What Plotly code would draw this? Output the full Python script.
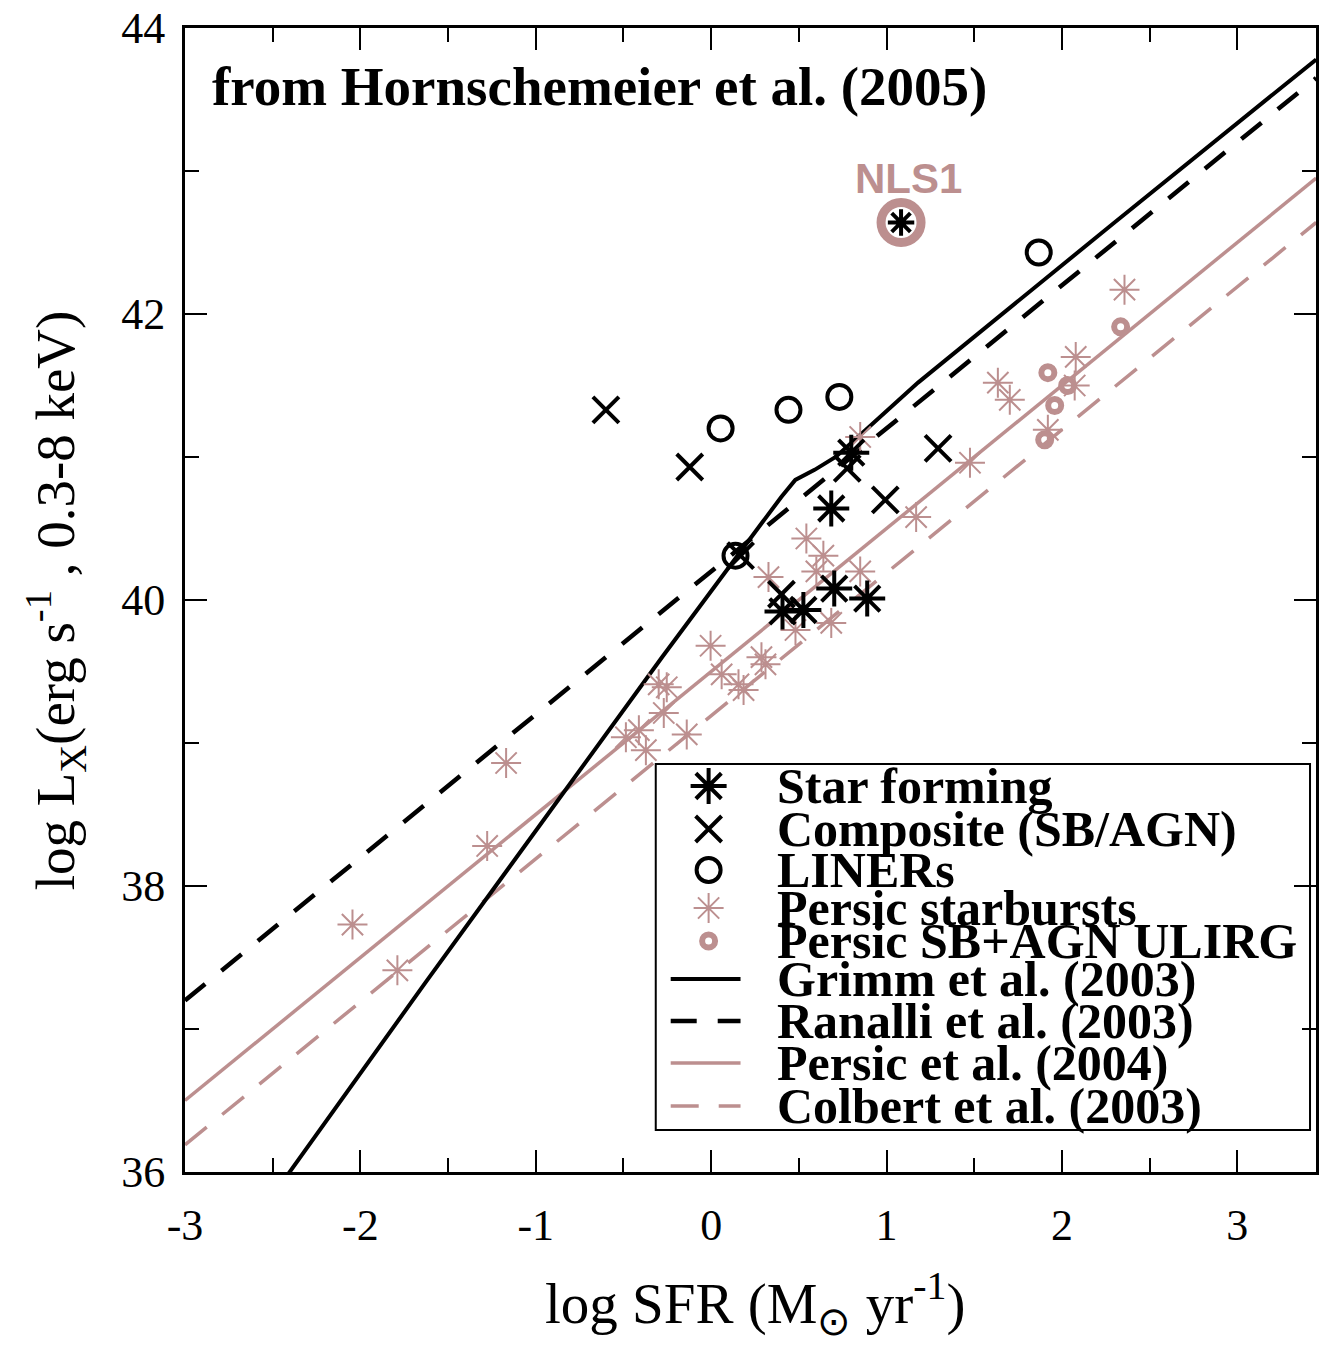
import plotly.graph_objects as go

# ---------------- data ----------------
# Star forming (black asterisks)
star_x = [0.407, 0.526, 0.702, 0.890, 0.685, 0.799]
star_y = [39.92, 39.93, 40.08, 40.01, 40.64, 41.03]
# NLS1 (star forming point highlighted)
nls1_x = [1.083]
nls1_y = [42.64]
# Composite (SB/AGN) (black crosses)
comp_x = [-0.600, -0.122, 1.294, 0.993, 0.776, 0.401, 0.168]
comp_y = [41.33, 40.93, 41.06, 40.70, 40.92, 40.04, 40.31]
# LINERs (black open circles)
liner_x = [0.054, 0.441, 0.731, 1.868, 0.139]
liner_y = [41.20, 41.33, 41.42, 42.43, 40.31]
# Persic starbursts (pink asterisks)
psb_x = [-1.169, -1.277, -2.045, -1.789, -0.412, -0.486, -0.372, -0.139, -0.003,
         -0.253, -0.299, -0.270, 0.060, 0.156, 0.185, 0.287, 0.310, 0.327, 0.543,
         0.640, 0.600, 0.850, 0.685, 0.481, 1.169, 1.476, 1.635, 1.703, 2.079,
         2.073, 1.920, 2.357, 0.850]
psb_y = [38.86, 38.28, 37.73, 37.41, 39.09, 39.04, 38.95, 39.06, 39.68,
         39.39, 39.41, 39.21, 39.48, 39.41, 39.37, 39.60, 39.55, 40.16, 40.43,
         40.31, 40.20, 40.20, 39.84, 39.79, 40.58, 40.96, 41.52, 41.40, 41.70,
         41.50, 41.19, 42.17, 41.14]
# Persic SB+AGN ULIRG (pink circles)
pagn_x = [2.335, 1.920, 1.959, 2.033, 1.902]
pagn_y = [41.91, 41.59, 41.36, 41.50, 41.12]

# Relations
grimm_x = [-2.45, -1.62, -0.28, 0.14, 0.29, 0.40, 0.48, 0.59, 0.71, 0.90, 1.18, 2.30, 3.45]
grimm_y = [35.92, 37.34, 39.60, 40.30, 40.54, 40.72, 40.84, 40.91, 41.00, 41.21, 41.52, 42.64, 43.78]
ranalli_x = [-3.0, 3.45]
ranalli_y = [37.20, 43.65]
persic_x = [-3.0, 3.45]
persic_y = [36.50, 42.95]
colbert_x = [-3.0, 3.45]
colbert_y = [36.19, 42.64]

x_ticks = [-3, -2, -1, 0, 1, 2, 3]
x_ticklabels = ["-3", "-2", "-1", "0", "1", "2", "3"]
y_ticks = [36, 38, 40, 42, 44]
y_ticklabels = ["36", "38", "40", "42", "44"]

legend_labels = ["Star forming", "Composite (SB/AGN)", "LINERs", "Persic starbursts",
                 "Persic SB+AGN ULIRG", "Grimm et al. (2003)", "Ranalli et al. (2003)",
                 "Persic et al. (2004)", "Colbert et al. (2003)"]

# ---------------- styles ----------------
PINK = "#BC8F8F"
SERIF = "Liberation Serif, Times New Roman, serif"
SANS = "Liberation Sans, Arial, sans-serif"

W, H = 1319, 1346
L, R, T, B = 185, 0, 28, 174

star_style = dict(symbol="asterisk-open", size=30, color="black", line=dict(color="black", width=4))
comp_style = dict(symbol="x-thin-open", size=26, color="black", line=dict(color="black", width=4))
liner_style = dict(symbol="circle-open", size=24, color="black", line=dict(color="black", width=4))
psb_style = dict(symbol="asterisk-open", size=25, color=PINK, line=dict(color=PINK, width=2))
pagn_style = dict(symbol="circle-open", size=13, color=PINK, line=dict(color=PINK, width=6))

grimm_style = dict(color="black", width=4)
ranalli_style = dict(color="black", width=4.5, dash="26px,21px")
persic_style = dict(color=PINK, width=3.5)
colbert_style = dict(color=PINK, width=3.5, dash="28px,20px")

fig = go.Figure()

# relations
fig.add_trace(go.Scatter(x=colbert_x, y=colbert_y, mode="lines", line=colbert_style))
fig.add_trace(go.Scatter(x=persic_x, y=persic_y, mode="lines", line=persic_style))
fig.add_trace(go.Scatter(x=ranalli_x, y=ranalli_y, mode="lines", line=ranalli_style))
fig.add_trace(go.Scatter(x=grimm_x, y=grimm_y, mode="lines", line=grimm_style))

# data points
fig.add_trace(go.Scatter(x=psb_x, y=psb_y, mode="markers", marker=psb_style))
fig.add_trace(go.Scatter(x=pagn_x, y=pagn_y, mode="markers", marker=pagn_style))
fig.add_trace(go.Scatter(x=nls1_x, y=nls1_y, mode="markers",
                         marker=dict(symbol="circle-open", size=40, color=PINK,
                                     line=dict(color=PINK, width=9))))
fig.add_trace(go.Scatter(x=nls1_x, y=nls1_y, mode="markers",
                         marker=dict(symbol="asterisk-open", size=22, color="black",
                                     line=dict(color="black", width=4))))
fig.add_trace(go.Scatter(x=liner_x, y=liner_y, mode="markers", marker=liner_style))
fig.add_trace(go.Scatter(x=comp_x, y=comp_y, mode="markers", marker=comp_style))
fig.add_trace(go.Scatter(x=star_x, y=star_y, mode="markers", marker=star_style))

# ---------------- hand-drawn legend (pixel frame on overlay axes) ----------------
leg_left, leg_right, leg_top, leg_bottom = 657, 1313, 764, 1130
row_y = [786, 829, 870, 908, 941, 979, 1021, 1063, 1106]
sym_x = 710
line_x0, line_x1 = 672, 742
text_x = 777

marker_styles = [star_style, comp_style, liner_style, psb_style, pagn_style]
for i, ms in enumerate(marker_styles):
    fig.add_trace(go.Scatter(x=[sym_x], y=[row_y[i]], mode="markers", marker=ms,
                             xaxis="x2", yaxis="y2"))
line_styles = [grimm_style, ranalli_style, persic_style, colbert_style]
for j, ls in enumerate(line_styles):
    yy = row_y[5 + j]
    fig.add_trace(go.Scatter(x=[line_x0, line_x1], y=[yy, yy], mode="lines", line=ls,
                             xaxis="x2", yaxis="y2"))

fig.add_shape(type="rect", xref="x2", yref="y2", x0=leg_left, x1=leg_right,
              y0=leg_top, y1=leg_bottom, line=dict(color="black", width=2),
              fillcolor="white", layer="below")

annotations = []
for lab, yy in zip(legend_labels, row_y):
    annotations.append(dict(x=text_x, y=yy, xref="x2", yref="y2", text=lab,
                            showarrow=False, xanchor="left", yanchor="middle",
                            font=dict(family=SERIF, size=50, color="black", weight="bold")))

annotations.append(dict(x=210, y=86, xref="x2", yref="y2",
                        text="from Hornschemeier et al. (2005)", showarrow=False,
                        xanchor="left", yanchor="middle",
                        font=dict(family=SERIF, size=55, color="black", weight="bold")))

annotations.append(dict(x=1.123, y=42.95, xref="x", yref="y", text="NLS1",
                        showarrow=False, xanchor="center", yanchor="middle",
                        font=dict(family=SANS, size=42, color=PINK, weight="bold")))

# axis titles (paper coordinates)
pw, ph = W - L - R, H - T - B
annotations.append(dict(x=(757 - L) / pw, y=(H - B - 1303) / ph, xref="paper", yref="paper",
                        text="log SFR (M<sub>\u2299</sub> yr<sup>-1</sup>)", showarrow=False,
                        xanchor="center", yanchor="middle",
                        font=dict(family=SERIF, size=57, color="black")))
annotations.append(dict(x=(55 - L) / pw, y=(H - B - 600) / ph, xref="paper", yref="paper",
                        text="log L<sub>X</sub>(erg s<sup>-1</sup> , 0.3-8 keV)", showarrow=False,
                        textangle=-90, xanchor="center", yanchor="middle",
                        font=dict(family=SERIF, size=55, color="black")))

axis_common = dict(showgrid=False, zeroline=False, ticks="inside", tickwidth=2,
                   ticklen=22, linecolor="black", linewidth=3, mirror="ticks",
                   tickcolor="black")

fig.update_layout(
    width=W, height=H,
    margin=dict(l=L, r=R, t=T, b=B, pad=0),
    paper_bgcolor="white", plot_bgcolor="white",
    showlegend=False,
    xaxis=dict(range=[-3, 3.449], tickvals=x_ticks, ticktext=x_ticklabels,
               tickfont=dict(family=SERIF, size=44, color="black"),
               ticklabelstandoff=12,
               minor=dict(tick0=-3, dtick=0.5, ticks="inside", ticklen=14, tickwidth=2,
                          tickcolor="black"),
               **axis_common),
    yaxis=dict(range=[36, 44], tickvals=y_ticks, ticktext=y_ticklabels,
               tickfont=dict(family=SERIF, size=44, color="black"),
               ticklabelstandoff=8,
               minor=dict(tick0=36, dtick=1, ticks="inside", ticklen=14, tickwidth=2,
                          tickcolor="black"),
               **axis_common),
    xaxis2=dict(range=[L, W - R], overlaying="x", visible=False, anchor="y2"),
    yaxis2=dict(range=[H - B, T], overlaying="y", visible=False, anchor="x2"),
    annotations=annotations,
)

fig.write_html("out.html")
